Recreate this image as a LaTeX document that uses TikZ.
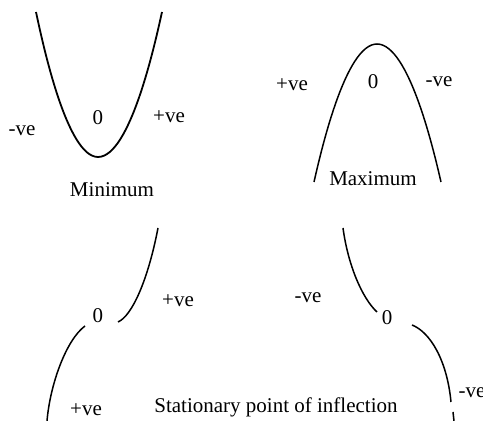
\documentclass[tikz,border=0pt]{standalone}
\usepackage{fontspec}
\setmainfont{Liberation Serif}
\usepackage{tikz}
\tikzset{curve/.style={draw=black,line width=0.75pt},
  lbl/.style={inner sep=0pt,font=\fontsize{10.5}{12}\selectfont}}
\begin{document}
\begin{tikzpicture}[x=0.5pt,y=-0.5pt]
\useasboundingbox (0,0) rectangle (483,421);
% minimum:
\path[curve,line width=0.9pt] (36,12) parabola bend (98,157) (162,12);
\node[lbl] (minneg) at (22,131) {-ve};
\node[lbl] (minzero) at (98,118) {0};
\node[lbl] (minpos) at (169,117) {+ve};
\node[lbl] (mintext) at (112,190) {Minimum};
% maximum:
\path[curve] (314,182) parabola bend (377,44) (441,182);
\node[lbl] (maxpos) at (292,85) {+ve};
\node[lbl] (maxzero) at (373,82) {0};
\node[lbl] (maxneg) at (439,82) {-ve};
\node[lbl] (maxtext) at (373,179) {Maximum};
% rising point of inflection:
\path[curve] (47,421) .. controls (50,385) and (66,340) .. (85,326);
\path[curve] (118,322) .. controls (132,316) and (148,280) .. (158,228);
\node[lbl] (risezero) at (98,316) {0};
\node[lbl] (risepos) at (178,301) {+ve};
\node[lbl] (riselow) at (86,410) {+ve};
% falling point of inflection:
\path[curve] (343,228) .. controls (348,265) and (362,298) .. (377,312);
\path[curve] (412,325) .. controls (430,332) and (447,360) .. (451,402);
\path[curve] (453,412) -- (454,421);
\node[lbl] (fallneg) at (308,298) {-ve};
\node[lbl] (fallzero) at (387,318) {0};
\node[lbl] (falllow) at (472,393) {-ve};
\node[lbl] (inftext) at (276,407) {Stationary point of inflection};
\end{tikzpicture}
\end{document}
